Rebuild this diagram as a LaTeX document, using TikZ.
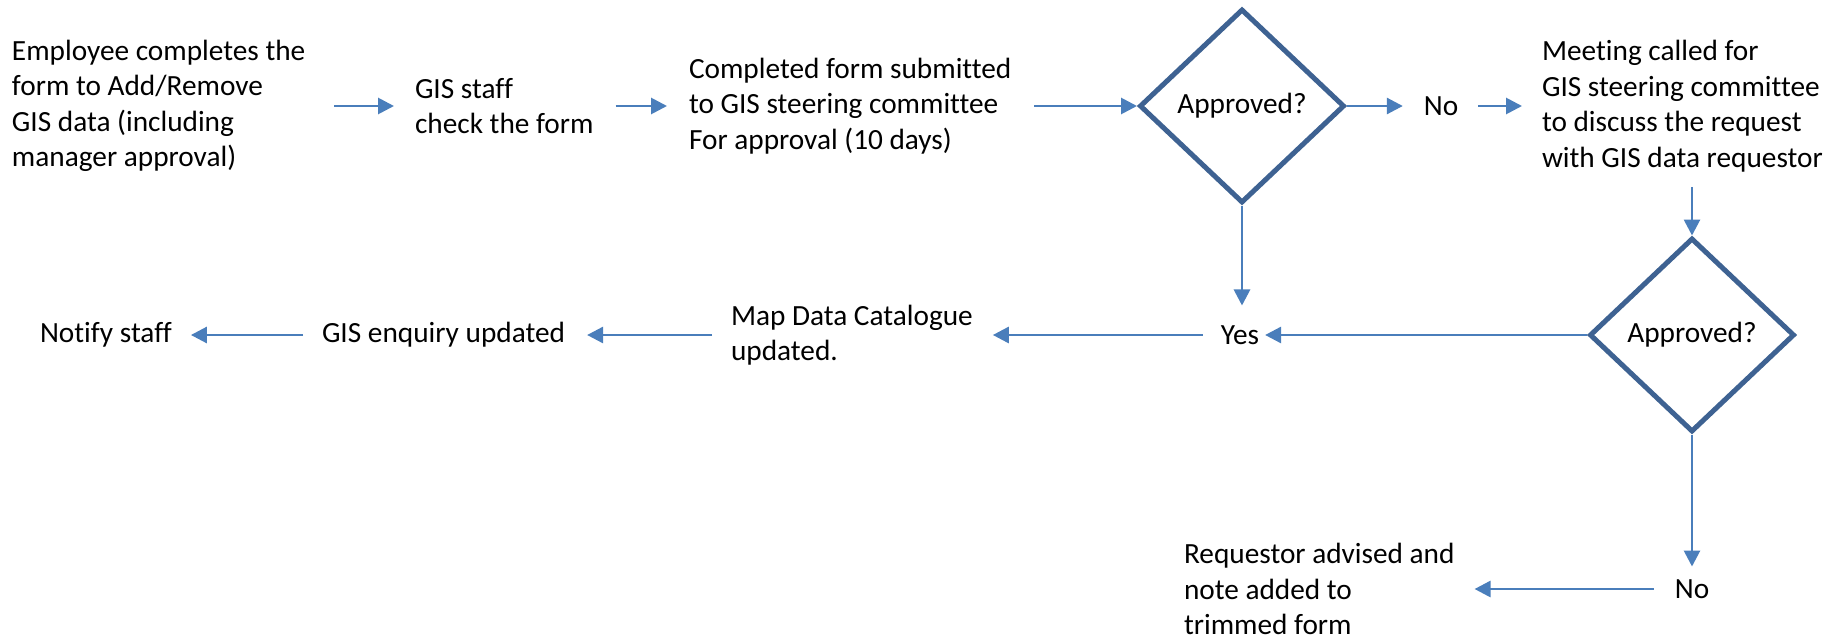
\documentclass[tikz,border=0pt]{standalone}
\usepackage{fontspec}
\setmainfont{Carlito}[Ligatures={NoCommon}]
\usetikzlibrary{arrows.meta,shapes.geometric}
\definecolor{arrowblue}{RGB}{74,126,187}
\definecolor{diamondblue}{RGB}{62,98,146}
\begin{document}
\begin{tikzpicture}[x=1pt,y=-1pt,
  txt/.style={inner sep=0pt, outer sep=0pt, font=\fontsize{29.3}{35.5}\selectfont, align=left, text=black},
  decision/.style={diamond, draw=diamondblue, line width=5pt, minimum width=205pt, minimum height=194pt, inner sep=0pt, font=\fontsize{29.3}{35.5}\selectfont},
  arr/.style={draw=arrowblue, line width=2.8pt, -{Triangle[length=16pt,width=16pt]}}]
\useasboundingbox (0,0) rectangle (1829,635);
% top row
\node[txt, anchor=west] (n1) at (12,106) {Employee completes the\\form to Add/Remove\\GIS data (including\\manager approval)};
\node[txt, anchor=west] (n2) at (415,106) {GIS staff\\check the form};
\node[txt, anchor=west] (n3) at (689,106) {Completed form submitted\\to GIS steering committee\\For approval (10 days)};
\node[decision] (d1) at (1242,106) {Approved?};
\node[txt] (no1) at (1441,106) {No};
\node[txt, anchor=west] (n5) at (1542,106) {Meeting called for\\GIS steering committee\\to discuss the request\\with GIS data requestor};
% second row
\node[decision] (d2) at (1692,335) {Approved?};
\node[txt] (yes) at (1240,335) {Yes};
\node[txt, anchor=west] (n6) at (731,335) {Map Data Catalogue\\updated.};
\node[txt, anchor=west] (n7) at (322,335) {GIS enquiry updated};
\node[txt, anchor=west] (n8) at (40,335) {Notify staff};
% third row
\node[txt] (no2) at (1692,589) {No};
\node[txt, anchor=west] (n9) at (1184,589) {Requestor advised and\\note added to\\trimmed form};
% connectors
\draw[arr, shorten <=29pt, shorten >=21pt] (n1.east) -- (n2.west);
\draw[arr, shorten <=22pt, shorten >=22pt] (n2.east) -- (n3.west);
\draw[arr, shorten <=23pt] (n3.east) -- (d1.west);
\draw[arr, shorten >=21pt] (d1.east) -- (no1.west);
\draw[arr, shorten <=20pt, shorten >=20pt] (no1.east) -- (n5.west);
\draw[arr, shorten <=15pt] (n5.south -| d2.north) -- (d2.north);
\draw[arr, shorten >=20pt] (d1.south) -- (d1.south |- yes.north);
\draw[arr, shorten >=6pt] (d2.west) -- (yes.east);
\draw[arr, shorten <=18pt, shorten >=20pt] (yes.west) -- (n6.east);
\draw[arr, shorten <=19pt, shorten >=22pt] (n6.west) -- (n7.east);
\draw[arr, shorten <=19pt, shorten >=19pt] (n7.west) -- (n8.east);
\draw[arr, shorten >=13pt] (d2.south) -- (no2.north);
\draw[arr, shorten <=21pt, shorten >=20pt] (no2.west) -- (n9.east);
\end{tikzpicture}
\end{document}
